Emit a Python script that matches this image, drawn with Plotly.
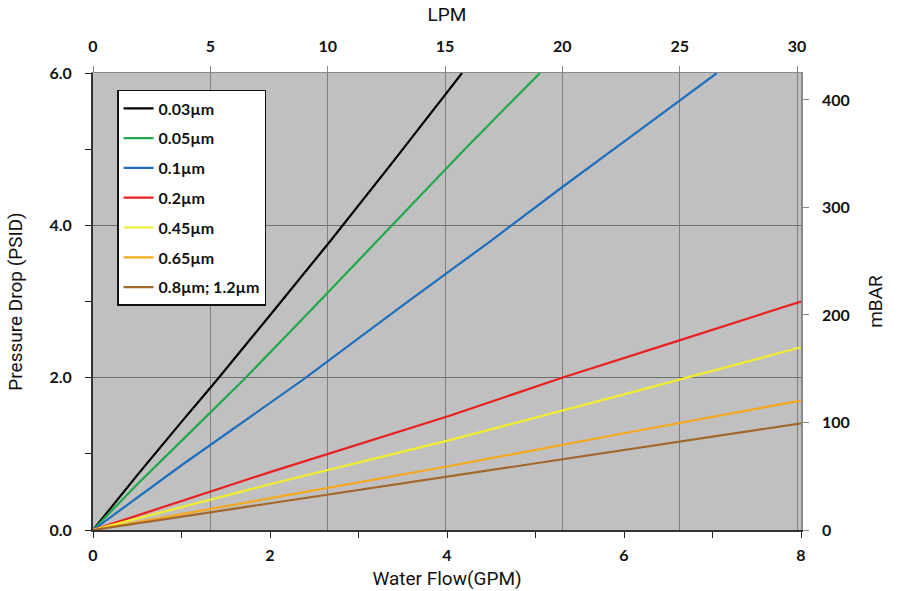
import plotly.graph_objects as go

# Data (GPM vs PSID)
series_names = ["0.03\u00b5m", "0.05\u00b5m", "0.1\u00b5m", "0.2\u00b5m", "0.45\u00b5m", "0.65\u00b5m", "0.8\u00b5m; 1.2\u00b5m"]
series_colors = ["#000000", "#22a84a", "#1f6fbf", "#e8201f", "#f2ee2e", "#f5a81c", "#a0662a"]

gpm_003 = [0, 0.5, 1.0, 1.4, 2.0, 2.7, 3.4, 4.17]
psi_003 = [0, 0.72, 1.42, 1.97, 2.82, 3.82, 4.85, 6.0]

gpm_005 = [0, 0.5, 1.0, 1.7, 2.5, 3.3, 4.2, 5.05]
psi_005 = [0, 0.6, 1.17, 1.97, 2.93, 3.90, 5.0, 6.0]

gpm_01 = [0, 1.0, 2.37, 3.5, 4.5, 5.3, 6.2, 7.05]
psi_01 = [0, 0.85, 1.97, 2.95, 3.8, 4.5, 5.27, 6.0]

gpm_02 = [0, 2.0, 4.03, 5.3, 6.6, 8.0]
psi_02 = [0, 0.76, 1.50, 2.0, 2.48, 3.0]

gpm_045 = [0, 2.0, 4.03, 6.0, 8.0]
psi_045 = [0, 0.6, 1.18, 1.78, 2.4]

gpm_065 = [0, 2.0, 4.03, 6.0, 8.0]
psi_065 = [0, 0.42, 0.84, 1.27, 1.7]

gpm_08 = [0, 2.0, 4.03, 6.0, 8.0]
psi_08 = [0, 0.35, 0.70, 1.05, 1.4]

series_x = [gpm_003, gpm_005, gpm_01, gpm_02, gpm_045, gpm_065, gpm_08]
series_y = [psi_003, psi_005, psi_01, psi_02, psi_045, psi_065, psi_08]

gpm_ticks = [0, 2, 4, 6, 8]
lpm_ticks = [0, 5, 10, 15, 20, 25, 30]
psi_ticks = [0, 2, 4, 6]
psi_labels = ["0.0", "2.0", "4.0", "6.0"]
mbar_ticks = [0, 100, 200, 300, 400]

TICKFONT = dict(family="Lato, Open Sans, sans-serif", size=16, color="#111111", weight="bold")
TITLEFONT = dict(family="Liberation Sans Narrow, Roboto, sans-serif", size=19, color="#111111")

fig = go.Figure()
for i, (name, color, xs, ys) in enumerate(zip(series_names, series_colors, series_x, series_y)):
    fig.add_trace(go.Scatter(x=xs, y=ys, mode="lines", name=name, legendgroup="g%d" % i,
                             line=dict(color=color, width=2.2), xaxis="x", yaxis="y"))

# invisible traces to activate secondary axes
fig.add_trace(go.Scatter(x=[0], y=[0], xaxis="x2", yaxis="y", mode="markers",
                         marker=dict(opacity=0), showlegend=False, hoverinfo="skip"))
fig.add_trace(go.Scatter(x=[0], y=[0], xaxis="x", yaxis="y2", mode="markers",
                         marker=dict(opacity=0), showlegend=False, hoverinfo="skip"))

fig.update_layout(
    width=897, height=591,
    margin=dict(l=93, r=96, t=73, b=61),
    paper_bgcolor="white",
    plot_bgcolor="#c0c0c0",
    showlegend=True,
    legend=dict(x=0.034, y=0.963, xanchor="left", yanchor="top",
                bgcolor="white", bordercolor="#111111", borderwidth=1.5,
                font=dict(family="Lato, Open Sans, sans-serif", size=16, color="#111111", weight="bold"),
                tracegroupgap=6, itemwidth=30),
    xaxis=dict(range=[0, 8], tickvals=gpm_ticks, ticktext=[str(v) for v in gpm_ticks],
               minor=dict(tickvals=[1, 3, 5, 7], ticks="outside", ticklen=6, tickcolor="#222", showgrid=False),
               showgrid=False, zeroline=False, ticks="outside", ticklen=6, tickcolor="#222",
               showline=True, linecolor="#333333", linewidth=2, mirror=False,
               tickfont=TICKFONT, ticklabelstandoff=4, automargin=False,
               title=dict(text="Water Flow(GPM)", font=TITLEFONT, standoff=8)),
    xaxis2=dict(range=[0, 30.17], overlaying="x", side="top", tickvals=lpm_ticks,
                showgrid=True, gridcolor="#7f7f7f", gridwidth=1, zeroline=False,
                ticks="outside", ticklen=6, tickcolor="#888888",
                showline=True, linecolor="#8a8a8a", linewidth=1,
                tickfont=TICKFONT, ticklabelstandoff=8, automargin=False,
                title=dict(text="LPM", font=TITLEFONT, standoff=8)),
    yaxis=dict(range=[0, 6], tickvals=psi_ticks, ticktext=psi_labels,
               minor=dict(tickvals=[1, 3, 5], ticks="outside", ticklen=6, tickcolor="#222", showgrid=False),
               showgrid=True, gridcolor="#6e6e6e", gridwidth=1, zeroline=False,
               ticks="outside", ticklen=6, tickcolor="#222",
               showline=True, linecolor="#333333", linewidth=2,
               tickfont=TICKFONT, ticklabelstandoff=10, automargin=False,
               title=dict(text="Pressure Drop (PSID)", font=TITLEFONT, standoff=22)),
    yaxis2=dict(range=[0, 425.1], overlaying="y", side="right", tickvals=mbar_ticks,
                showgrid=False, zeroline=False, ticks="outside", ticklen=6, tickcolor="#888888",
                showline=True, linecolor="#8a8a8a", linewidth=1.5,
                tickfont=TICKFONT, ticklabelstandoff=10, automargin=False,
                title=dict(text="mBAR", font=TITLEFONT, standoff=20)),
)

fig.write_html("out.html")
